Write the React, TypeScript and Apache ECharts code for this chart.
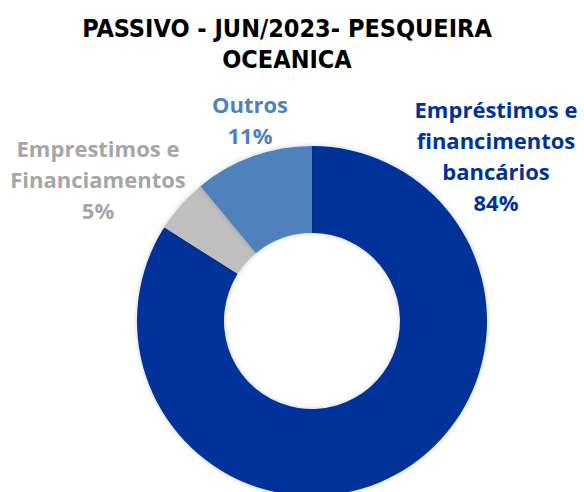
import React, { useEffect, useRef } from "react";
import * as echarts from "echarts";

const titleText = "PASSIVO - JUN/2023- PESQUEIRA\nOCEANICA";
const categories = [
  "Empréstimos e financimentos bancários",
  "Emprestimos e Financiamentos",
  "Outros",
];
const labelTexts = [
  "Empréstimos e\nfinancimentos\nbancários",
  "Emprestimos e\nFinanciamentos",
  "Outros",
];
const values = [84, 5, 11];
const sliceColors = ["#003399", "#BFBFBF", "#4F81BD"];
const labelColors = ["#003399", "#A6A6A6", "#4F81BD"];
const labelX = [496, 98, 250];
const labelY = [155, 179, 119];

export default function App() {
  const ref = useRef<HTMLDivElement>(null);
  useEffect(() => {
    if (!ref.current) return;
    const chart = echarts.init(ref.current, undefined, { renderer: "svg" });
    chart.setOption({
      animation: false,
      backgroundColor: "#ffffff",
      title: {
        text: titleText,
        left: 282,
        top: 8,
        textAlign: "center",
        textStyle: {
          fontFamily: "'DejaVu Sans Condensed', 'Liberation Sans Narrow', 'DejaVu Sans', sans-serif",
          fontWeight: "bold",
          fontSize: 25,
          lineHeight: 31,
          color: "#000000",
        },
      },
      series: [
        {
          type: "pie",
          radius: [88, 175],
          center: [312, 321],
          startAngle: 90,
          clockwise: true,
          itemStyle: {
            shadowBlur: 5,
            shadowColor: "rgba(0,0,0,0.2)",
          },
          label: {
            show: true,
            position: "outside",
            formatter: (p: any) => `${labelTexts[p.dataIndex]}\n${Math.round(p.percent)}%`,
            fontFamily: "'Open Sans', Lato, sans-serif",
            fontWeight: "bold",
            fontSize: 22,
            lineHeight: 31,
            align: "center",
            overflow: "none",
            width: 300,
          },
          labelLine: { show: false },
          labelLayout: (p: any) => ({
            x: labelX[p.dataIndex],
            y: labelY[p.dataIndex],
            align: "center",
            verticalAlign: "middle",
          }),
          data: categories.map((name, i) => ({
            name,
            value: values[i],
            itemStyle: { color: sliceColors[i] },
            label: { color: labelColors[i] },
          })),
        },
      ],
    });
    return () => chart.dispose();
  }, []);
  return (
    <div
      ref={ref}
      style={{ position: "absolute", left: 0, top: 0, width: 584, height: 492 }}
    />
  );
}
